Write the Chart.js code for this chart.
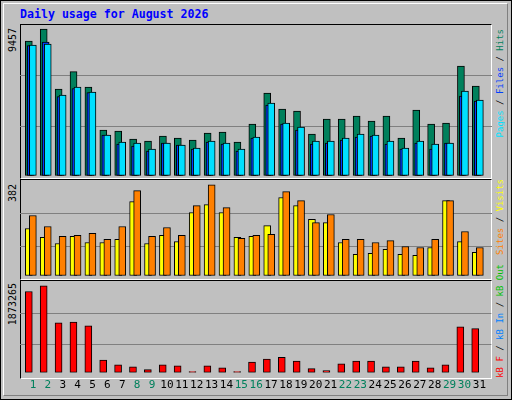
<!DOCTYPE html>
<html><head><meta charset="utf-8">
<script src="https://cdn.jsdelivr.net/npm/chart.js@4"></script>
<style>
body{margin:0;width:512px;height:400px;background:#C0C0C0;overflow:hidden;font-family:"DejaVu Sans Mono",monospace;}
#frame{position:absolute;left:0;top:0;width:510px;height:398px;border:1px solid #000;}
#inner{position:absolute;left:3px;top:3px;width:503px;height:391px;border-top:1px solid #fff;border-left:1px solid #fff;border-right:1px solid #808080;border-bottom:1px solid #808080;}
.panel{position:absolute;left:20px;width:470px;border-top:1px solid #000;border-left:1px solid #000;border-right:1px solid #fff;border-bottom:1px solid #fff;}
canvas{position:absolute;}
.t{position:absolute;white-space:nowrap;}
.v{position:absolute;writing-mode:vertical-rl;transform:rotate(180deg);font-size:9px;white-space:nowrap;line-height:12px;}
</style></head><body>
<div id="frame"></div><div id="inner"></div>
<div class="t" style="left:20px;top:7px;color:#0000FF;font-weight:bold;font-size:11.6px;">Daily usage for August 2026</div>
<div class="panel" style="top:24px;height:153px;"></div>
<div class="panel" style="top:179px;height:99px;"></div>
<div class="panel" style="top:280px;height:97px;"></div>
<div class="v" style="left:7px;top:28px;color:#000;font-size:10px;">9457</div>
<div class="v" style="left:7px;top:184px;color:#000;font-size:10px;">382</div>
<div class="v" style="left:7px;top:283px;color:#000;font-size:10px;">1873265</div>
<div class="v" style="left:494px;top:29px;"><span style="color:#00E0FF">Pages</span> / <span style="color:#0040FF">Files</span> / <span style="color:#00805C">Hits</span></div>
<div class="v" style="left:494px;top:179px;"><span style="color:#FF8000">Sites</span> / <span style="color:#FFFF00">Visits</span></div>
<div class="v" style="left:494px;top:264px;"><span style="color:#FF0000">kB F</span> / <span style="color:#0080FF">kB In</span> / <span style="color:#00C000">kB Out</span></div>
<canvas id="c1" style="left:20px;top:26px;" width="472" height="150"></canvas>
<canvas id="c2" style="left:20px;top:182px;" width="472" height="94"></canvas>
<canvas id="c3" style="left:20px;top:282px;" width="472" height="116"></canvas>
<script>
const days=[1,2,3,4,5,6,7,8,9,10,11,12,13,14,15,16,17,18,19,20,21,22,23,24,25,26,27,28,29,30,31];
const weekend=[1,2,8,9,15,16,22,23,29,30];
const hits=[8511,9268,5485,6578,5611,2900,2837,2333,2207,2522,2396,2270,2711,2774,2144,3278,5233,4224,4098,2648,3594,3594,3783,3468,3783,2396,4161,3278,3341,6935,5674];
const files=[8217,8448,5002,5506,5254,2585,2018,1891,1576,2081,1954,1702,2144,2018,1576,2396,4476,3278,2900,2018,2081,2270,2459,2522,2018,1702,2081,1702,2081,5044,4729];
const pages=[8259,8322,5107,5611,5296,2585,2144,2081,1702,2081,1954,1765,2207,2081,1702,2459,4602,3341,3089,2207,2207,2396,2648,2585,2207,1765,2207,2018,2081,5359,4792];
const visits=[193,157,132,161,136,136,149,302,132,165,140,258,290,258,157,161,205,319,286,230,217,136,88,92,108,88,84,116,306,140,96];
const sites=[246,201,161,165,173,149,201,347,161,197,165,286,371,278,153,165,169,343,306,217,250,149,149,136,144,120,116,149,306,181,116];
const kbytes=[1676800,1794700,1028350,1048000,969400,262000,163750,124450,65500,163750,144100,26200,144100,104800,26200,222700,281650,320950,242350,85150,45850,183400,242350,242350,124450,124450,242350,104800,163750,949750,910450];
const topMax=9457, midMax=382, botMax=1873265;

function ds(vals,off,color,order){
  return {data:vals.map((v,i)=>({x:days[i]+off,y:v})),backgroundColor:color,borderColor:'#000',borderWidth:1,borderSkipped:false,barThickness:7,order:order,grouped:false};
}
function make(id,datasets,max,fracs,showX){
  new Chart(document.getElementById(id),{type:'bar',data:{datasets},
    options:{responsive:false,animation:false,events:[],layout:{padding:0},
      plugins:{legend:{display:false},tooltip:{enabled:false}},
      scales:{
        x:{type:'linear',min:0.128,max:31.805,display:showX,offset:false,
           afterBuildTicks:a=>{a.ticks=days.map(d=>({value:d}));},
           grid:{display:false,drawTicks:false},border:{display:false},
           ticks:{padding:6,maxRotation:0,autoSkip:false,font:{family:'DejaVu Sans Mono',size:11},
             color:c=>weekend.includes(c.tick.value)?'#00805C':'#000',callback:v=>String(v)}},
        y:{min:0,max:max,display:true,
           afterBuildTicks:a=>{a.ticks=[{value:0},{value:max*fracs[0]},{value:max*fracs[1]},{value:max}];},
           afterFit:a=>{a.width=0;},
           ticks:{display:false},border:{display:false},
           grid:{drawTicks:false,color:c=>(c.index===1||c.index===2)?'#808080':'rgba(0,0,0,0)',lineWidth:1}}
      }}});
}
make('c1',[ds(hits,-0.28,'#00805C',3),ds(files,-0.15,'#0040FF',2),ds(pages,-0.01,'#00E0FF',1)],topMax,[0.327,0.667],false);
make('c2',[ds(visits,-0.28,'#FFFF00',2),ds(sites,-0.01,'#FF8000',1)],midMax,[0.314,0.664],false);
make('c3',[ds(kbytes,-0.28,'#FF0000',1)],botMax,[0.308,0.654],true);
</script></body></html>
